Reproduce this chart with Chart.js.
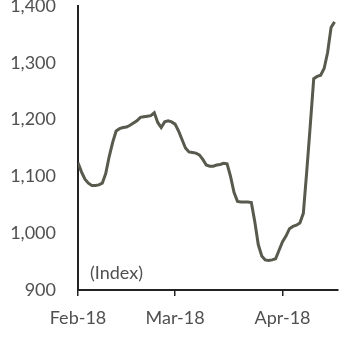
<!DOCTYPE html>
<html>
<head>
<meta charset="utf-8">
<script src="https://cdn.jsdelivr.net/npm/chart.js@4"></script>
<style>
  html, body { margin: 0; padding: 0; background: #fff; }
  #wrap { width: 345px; height: 342px; }
</style>
</head>
<body>
<div id="wrap"><canvas id="indexChart"></canvas></div>
<script>
// days counted from 1 Feb 2018
const days = [
  0, 1, 2, 3, 4, 5, 6, 7, 8, 9, 10, 11, 12, 13, 14, 15, 16, 17, 18, 19,
  20, 21, 22, 23, 24, 25, 26, 27, 28, 29, 30, 31, 32, 33, 34, 35, 36, 37, 38, 39,
  40, 41, 42, 43, 44, 45, 46, 47, 48, 49, 50, 51, 52, 53, 54, 55, 56, 57, 58, 59,
  60, 61, 62, 63, 64, 65, 66, 67, 68, 69, 70, 71, 72, 73, 74
];
const indexValues = [
  1124, 1108, 1095, 1088, 1084, 1084, 1085, 1088, 1105, 1135,
  1160, 1180, 1184, 1186, 1187, 1190, 1194, 1198, 1204, 1205,
  1206, 1207, 1212, 1195, 1186, 1196, 1198, 1196, 1192, 1180,
  1165, 1150, 1143, 1142, 1141, 1138, 1130, 1120, 1118, 1118,
  1120, 1121, 1123, 1122, 1100, 1072, 1056, 1055, 1055, 1055,
  1054, 1020, 980, 960, 953, 952, 953, 955, 970, 985,
  995, 1008, 1012, 1014, 1018, 1035, 1110, 1190, 1272, 1276,
  1278, 1290, 1318, 1362, 1372
];
const tickDays = [0, 28, 59];
const tickLabels = ['Feb-18', 'Mar-18', 'Apr-18'];
const unitLabel = '(Index)';

const textColor = '#505050';
const axisColor = '#222';

const unitPlugin = {
  id: 'unitLabel',
  afterDraw(chart) {
    const ctx = chart.ctx;
    const area = chart.chartArea;
    ctx.save();
    ctx.font = '18px Lato';
    ctx.fillStyle = textColor;
    ctx.textBaseline = 'middle';
    ctx.fillText(unitLabel, area.left + 12, area.bottom - 17);
    ctx.restore();
  }
};

window.addEventListener('load', () => {
  const ctx = document.getElementById('indexChart').getContext('2d');
  new Chart(ctx, {
    type: 'line',
    data: {
      datasets: [{
        data: days.map((d, i) => ({ x: d, y: indexValues[i] })),
        borderColor: '#575a4c',
        borderWidth: 3,
        pointRadius: 0,
        tension: 0,
        fill: false
      }]
    },
    options: {
      responsive: true,
      maintainAspectRatio: false,
      animation: false,
      layout: { padding: { top: 6, right: 7, left: 0, bottom: 0 } },
      plugins: { legend: { display: false }, tooltip: { enabled: false } },
      scales: {
        x: {
          type: 'linear',
          min: 0,
          max: 75,
          afterBuildTicks: s => { s.ticks = tickDays.map(v => ({ value: v })); },
          afterFit: s => { s.height = 52; s.paddingLeft = 0; s.paddingRight = 0; },
          grid: { display: true, drawOnChartArea: false, drawTicks: true, tickLength: 6, color: axisColor, lineWidth: 1.5 },
          border: { display: true, color: axisColor, width: 2 },
          ticks: {
            font: { family: 'Lato', size: 18 },
            color: textColor,
            padding: 11,
            maxRotation: 0,
            autoSkip: false,
            callback: v => tickLabels[tickDays.indexOf(v)]
          }
        },
        y: {
          min: 900,
          max: 1400,
          afterFit: s => { s.width = 78; s.paddingTop = 0; s.paddingBottom = 0; },
          grid: { display: false, drawTicks: false },
          border: { display: true, color: axisColor, width: 2 },
          ticks: {
            stepSize: 100,
            font: { family: 'Lato', size: 18 },
            color: textColor,
            padding: 22,
            callback: v => v.toLocaleString('en-US')
          }
        }
      }
    },
    plugins: [unitPlugin]
  });
});
</script>
</body>
</html>
